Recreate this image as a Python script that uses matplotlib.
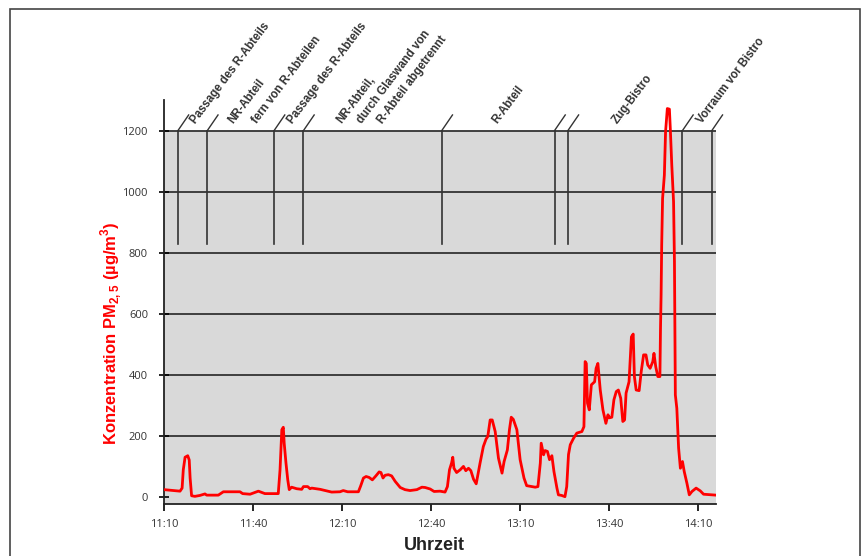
import numpy as np
import matplotlib
matplotlib.use("Agg")
import matplotlib.pyplot as plt
from matplotlib.patches import Rectangle

# minutes after 11:10 and PM2.5 concentration (µg/m3)
t_min = [0.0, 5.4, 6.1, 6.5, 7.1, 8.0, 8.5, 8.8, 9.3, 10.4, 12.1, 13.8, 14.4, 18.3, 20.0,
         25.6, 26.5, 29.0, 30.1, 31.8, 32.9, 34.0, 38.5, 39.1, 39.7, 40.2, 40.5, 41.1, 41.7,
         42.2, 43.0, 44.7, 46.4, 47.0, 48.4, 49.2, 49.8, 52.6, 56.5, 59.3, 60.4, 61.9, 65.5,
         66.3, 67.2, 68.1, 69.1, 70.2, 71.4, 72.5, 73.1, 73.8, 74.5, 75.6, 76.7, 77.9, 79.6,
         81.2, 82.9, 85.2, 86.9, 88.0, 89.7, 91.0, 93.0, 94.7, 95.5, 96.2, 96.9, 97.3, 97.7,
         98.6, 99.8, 100.9, 101.7, 102.6, 103.4, 104.3, 105.2, 106.5, 107.6, 108.5, 109.1,
         109.9, 110.6, 111.6, 112.7, 113.9, 114.6, 115.7, 116.4, 117.0, 117.7, 118.9, 120.0,
         121.3, 122.2, 125.1, 126.0, 126.8, 127.1, 127.9, 128.4, 129.2, 129.9, 130.7, 131.4,
         132.4, 132.9, 134.0, 135.1, 135.7, 136.3, 136.9, 138.0, 139.1, 140.8, 141.5, 141.9,
         142.3, 142.7, 143.3, 144.0, 145.1, 145.6, 146.2, 147.0, 147.9, 148.9, 149.6, 150.1,
         150.9, 151.6, 152.4, 153.1, 153.9, 154.6, 155.2, 155.7, 156.7, 157.5, 158.1, 158.5,
         159.1, 160.1, 160.8, 161.6, 162.4, 163.0, 163.8, 164.7, 165.1, 165.7, 166.4, 167.1,
         167.3, 167.5, 167.7, 168.0, 168.6, 169.0, 169.6, 170.3, 170.6, 171.1, 171.7, 172.0,
         172.3, 172.8, 173.4, 174.0, 174.7, 175.3, 176.2, 177.0, 177.9, 179.3, 180.7, 181.8,
         184.6, 186.0]
pm25 = [25, 20, 30, 90, 131, 136, 122, 63, 5, 3, 6, 11, 7, 7, 18,
        18, 12, 10, 14, 20, 16, 12, 12, 90, 221, 229, 177, 112, 57,
        25, 33, 28, 26, 35, 35, 28, 30, 26, 17, 18, 22, 18, 18,
        38, 63, 68, 65, 57, 70, 83, 81, 63, 72, 74, 70, 52, 32,
        25, 22, 25, 33, 32, 27, 19, 20, 17, 35, 90, 112, 131, 95,
        81, 90, 101, 87, 95, 87, 59, 44, 112, 166, 190, 199,
        253, 253, 215, 128, 79, 117, 155, 221, 262, 255, 221, 123,
        63, 38, 33, 35, 112, 177, 139, 153, 150, 123, 136, 84,
        30, 8, 6, 2, 35, 140, 172, 193, 210, 215, 231, 444,
        438, 308, 286, 368, 378, 422, 438, 351, 286, 242, 270, 260,
        262, 319, 346, 351, 324, 248, 253, 341, 378, 525, 534, 395,
        351, 349, 411, 466, 466, 433, 422, 444, 471, 427, 395, 395,
        553, 662, 825, 978, 1054, 1195, 1272, 1270, 1207, 1087, 967, 771,
        335, 291, 161, 95, 117, 84, 46, 8, 19, 30, 21, 10,
        8, 7]

tick_pos = [0, 30, 60, 90, 120, 150, 180]
tick_lbl = ["11:10", "11:40", "12:10", "12:40", "13:10", "13:40", "14:10"]
y_ticks = [0, 200, 400, 600, 800, 1000, 1200]

# section borders (minutes after 11:10)
marks = [4.7, 14.6, 37.1, 47.0, 93.6, 131.6, 136.1, 174.7, 184.6]
# section labels: (start minute, text) - one entry per text line
labels = [(10.6, "Passage des R-Abteils"),
          (23.5, "NR-Abteil"), (31.3, "fern von R-Abteilen"),
          (43.2, "Passage des R-Abteils"),
          (60.0, "NR-Abteil,"), (66.8, "durch Glaswand von"), (73.5, "R-Abteil abgetrennt"),
          (112.2, "R-Abteil"),
          (152.6, "Zug-Bistro"),
          (181.3, "Vorraum vor Bistro")]

plt.rcParams['font.family'] = 'Liberation Sans'

fig = plt.figure(figsize=(8.67, 5.56), dpi=100)
ax = fig.add_axes([164/867, 1-504/556, 552/867, 404/556])

ax.set_xlim(0, 186)
ax.set_ylim(-22, 1300)
ax.axhspan(-22, 1200, color="#d9d9d9", zorder=0, lw=0)
for y in y_ticks[1:]:
    ax.axhline(y, color="#333333", lw=1.3, zorder=1)

for m in marks:
    ax.plot([m, m], [828, 1200], color="#333333", lw=1.2, zorder=2, clip_on=False)
    ax.plot([m, m + 3.6], [1200, 1251], color="#333333", lw=1.0, zorder=2, clip_on=False)

for x0, txt in labels:
    ax.text(x0, 1222, txt, rotation=53, rotation_mode="anchor", ha="left", va="baseline",
            fontsize=8.3, fontweight="bold", color="#333333", clip_on=False)

ax.plot(t_min, pm25, color="#ff0000", lw=2.0, zorder=3)

ax.set_xticks(tick_pos)
ax.set_xticklabels(tick_lbl, family="Open Sans", fontsize=8, color="#333333")
ax.set_yticks(y_ticks)
ax.set_yticklabels([str(v) for v in y_ticks], family="Open Sans", fontsize=8, color="#333333")
ax.tick_params(axis="x", direction="out", length=5, width=1.2, pad=6)
ax.tick_params(axis="y", direction="inout", length=7, width=1.2, pad=8)

for s in ["top", "right"]:
    ax.spines[s].set_visible(False)
for s in ["left", "bottom"]:
    ax.spines[s].set_color("#222222")
    ax.spines[s].set_linewidth(1.3)

fig.text(111.7/867, 1-333/556, r"Konzentration PM$_{\mathregular{2,5}}$ (µg/m$^{\mathregular{3}}$)",
         rotation=90, ha="center", va="center", color="#ff0000", fontsize=12,
         fontweight="bold")
fig.text(434/867, 1-545/556, "Uhrzeit", ha="center", va="center", color="#222222",
         fontsize=13, fontweight="bold")

fig.patches.append(Rectangle((10/867, -0.1), 850/867, 1.1 - 9/556, transform=fig.transFigure,
                             fill=False, edgecolor="#444444", lw=1.2))

fig.savefig("out.png", dpi=100)
